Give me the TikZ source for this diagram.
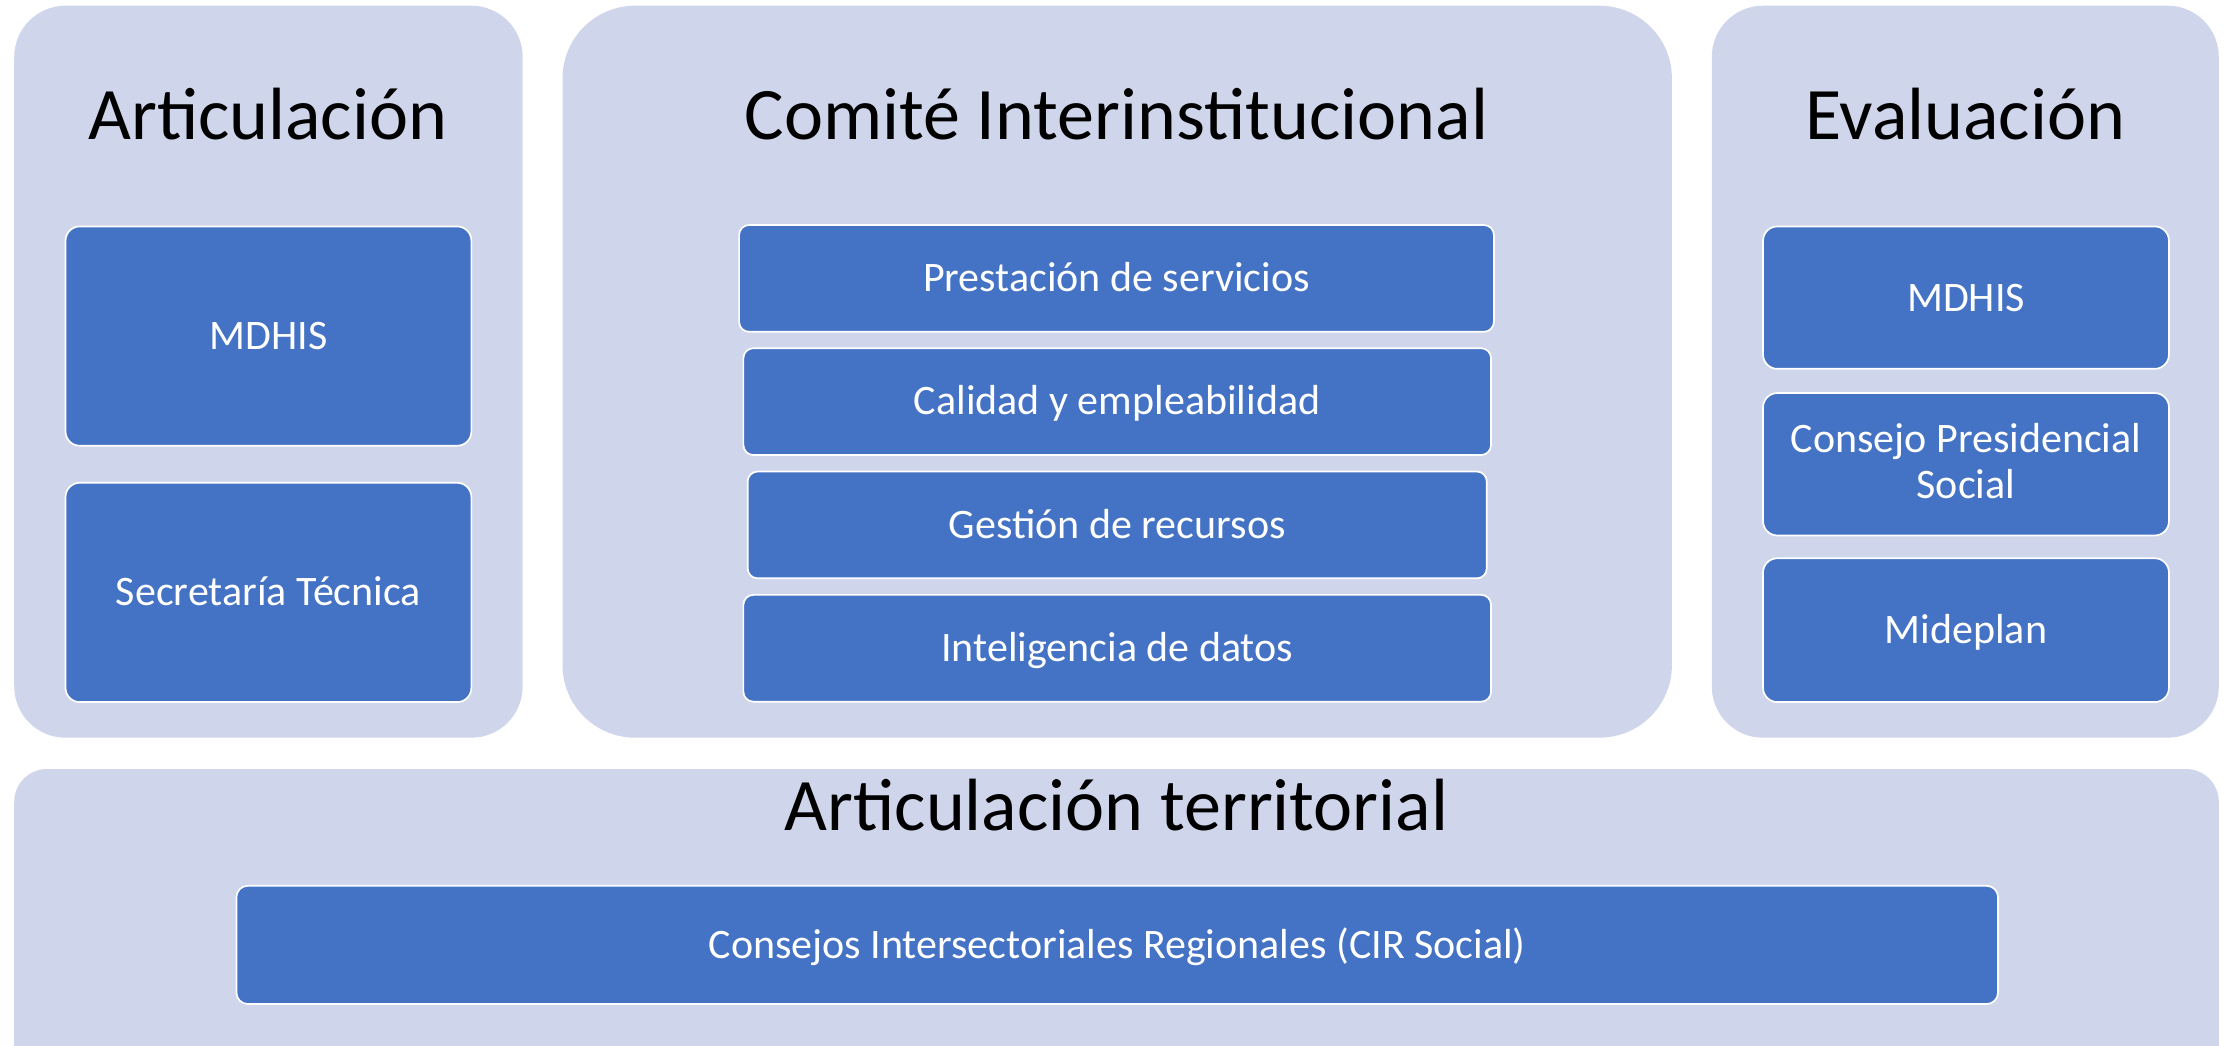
\documentclass[tikz,border=0pt]{standalone}
\usepackage{fontspec}
\setmainfont{Carlito}
\definecolor{panelfill}{HTML}{CFD5EA}
\definecolor{boxfill}{HTML}{4472C4}

\begin{document}
\begin{tikzpicture}[x=1pt,y=-1pt,
  panel/.style={fill=panelfill,inner sep=0pt},
  heading/.style={anchor=base,inner sep=0pt,font=\fontsize{52}{60}\selectfont},
  item/.style={fill=boxfill,draw=white,line width=1.2pt,text=white,align=center,
    inner sep=0pt,text height=22pt,text depth=3.2pt,
    font=\fontsize{29.5}{32.3}\selectfont}]
\clip (0,0) rectangle (1568,734);
% panels
\node[panel,rounded corners=36pt,minimum width=357pt,minimum height=514pt] (pArt) at (188.5,261) {};
\node[panel,rounded corners=51pt,minimum width=779pt,minimum height=514pt] (pCom) at (784.5,261) {};
\node[panel,rounded corners=36pt,minimum width=356pt,minimum height=514pt] (pEva) at (1380,261) {};
\node[panel,rounded corners=23pt,minimum width=1548pt,minimum height=230pt] (pTer) at (784,655) {};
% headings
\node[heading] (hArt) at (188,98) {Articulación};
\node[heading] (hCom) at (784,98) {Comité Interinstitucional};
\node[heading] (hEva) at (1380,98) {Evaluación};
\node[heading] (hTer) at (784,583.5) {Articulación territorial};
% Articulacion
\node[item,rounded corners=10pt,minimum width=285pt,minimum height=154pt] (aMdhis) at (188.5,236) {MDHIS};
\node[item,rounded corners=10pt,minimum width=285pt,minimum height=154pt] (aSecr) at (188.5,416) {Secretaría Técnica};
% Comite
\node[item,rounded corners=7pt,minimum width=530pt,minimum height=75pt] (cPrest) at (784,195.5) {Prestación de servicios};
\node[item,rounded corners=7pt,minimum width=525pt,minimum height=75pt] (cCal) at (784.5,282) {Calidad y empleabilidad};
\node[item,rounded corners=7pt,minimum width=519pt,minimum height=75pt] (cGest) at (784.5,368.6) {Gestión de recursos};
\node[item,rounded corners=7pt,minimum width=525pt,minimum height=75pt] (cInt) at (784.5,455.2) {Inteligencia de datos};
% Evaluacion
\node[item,rounded corners=10pt,minimum width=285pt,minimum height=100pt] (eMdhis) at (1380.5,209) {MDHIS};
\node[item,rounded corners=10pt,minimum width=285pt,minimum height=100pt,text height=51.2pt] (eCons) at (1380.5,326) {Consejo Presidencial\\Social};
\node[item,rounded corners=10pt,minimum width=285pt,minimum height=101pt] (eMide) at (1380.5,442.5) {Mideplan};
% territorial
\node[item,rounded corners=8pt,minimum width=1237pt,minimum height=83pt] (tCir) at (784.5,663.5) {Consejos Intersectoriales Regionales (CIR Social)};
\end{tikzpicture}
\end{document}
